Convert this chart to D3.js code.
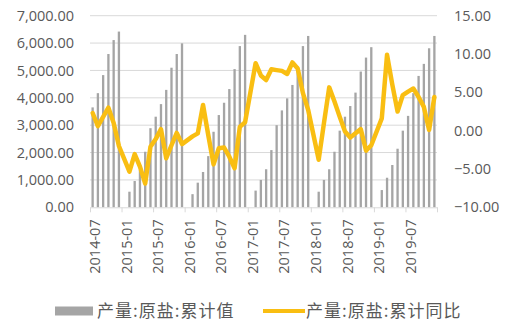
<!DOCTYPE html>
<html>
<head>
<meta charset="utf-8">
<script src="https://cdn.jsdelivr.net/npm/d3@7"></script>
<style>
  html, body { margin: 0; padding: 0; background: #ffffff; }
  svg { display: block; }
</style>
</head>
<body>
<svg id="chart" width="507" height="332"></svg>
<script>
// Monthly categories, 2014-07 through 2019-12
const months = [
  "2014-07","2014-08","2014-09","2014-10","2014-11","2014-12",
  "2015-01","2015-02","2015-03","2015-04","2015-05","2015-06","2015-07","2015-08","2015-09","2015-10","2015-11","2015-12",
  "2016-01","2016-02","2016-03","2016-04","2016-05","2016-06","2016-07","2016-08","2016-09","2016-10","2016-11","2016-12",
  "2017-01","2017-02","2017-03","2017-04","2017-05","2017-06","2017-07","2017-08","2017-09","2017-10","2017-11","2017-12",
  "2018-01","2018-02","2018-03","2018-04","2018-05","2018-06","2018-07","2018-08","2018-09","2018-10","2018-11","2018-12",
  "2019-01","2019-02","2019-03","2019-04","2019-05","2019-06","2019-07","2019-08","2019-09","2019-10","2019-11","2019-12"
];

// Raw salt output, year-to-date cumulative (left axis); January is not reported
const cumulative = [
  3650, 4170, 4830, 5600, 6110, 6420,
  null, 570, 960, 1360, 2030, 2890, 3310, 3770, 4290, 5100, 5600, 5990,
  null, 480, 900, 1290, 1870, 2760, 3370, 3820, 4320, 5050, 5890, 6300,
  null, 610, 1000, 1390, 2090, 3000, 3540, 3980, 4470, 5140, 5890, 6260,
  null, 570, 1000, 1390, 2030, 2800, 3310, 3700, 4190, 4960, 5470, 5850,
  null, 630, 1080, 1545, 2140, 2800, 3340, 4170, 4800, 5240, 5810, 6260
];

// Year-to-date growth rate, % (right axis)
const yoy = [
  2.3, 0.6, 1.8, 3.0, 1.0, -2.0,
  null, -5.35, -3.05, -4.7, -6.9, -2.1, -1.1, 0.2, -3.6, -1.9, -0.3, -1.75,
  null, -0.75, -0.35, 3.35, -0.6, -4.4, -2.3, -2.2, -3.4, -4.9, 0.5, 1.1,
  null, 8.8, 7.2, 6.6, 8.0, 7.9, 7.8, 7.4, 8.9, 8.1, 4.9, 2.7,
  null, -3.8, 1.0, 5.65, 3.8, 1.8, -0.1, -0.9, -0.35, 0.2, -2.6, -1.9,
  null, 1.6, 9.9, 6.0, 2.5, 4.65, 5.1, 5.5, 4.4, 3.1, 0.1, 4.4
];

const leftTicks = [0, 1000, 2000, 3000, 4000, 5000, 6000, 7000];
const rightTicks = [-10, -5, 0, 5, 10, 15];
const xTickLabels = ["2014-07","2015-01","2015-07","2016-01","2016-07","2017-01",
                     "2017-07","2018-01","2018-07","2019-01","2019-07"];
const seriesNames = ["产量:原盐:累计值", "产量:原盐:累计同比"];

const svg = d3.select("#chart");
const plot = { left: 90, right: 437, top: 15.7, bottom: 207.3 };
const textColor = "#595959";
const gridColor = "#d9d9d9";
const barColor = "#a5a5a5";
const lineColor = "#f9be12";
const tickFont = "'Open Sans', 'Liberation Sans', sans-serif";
const cjkFont = "'Noto Sans CJK SC', 'Noto Sans', sans-serif";

const x = d3.scaleBand().domain(months).range([plot.left, plot.right]).padding(0);
const xIndex = d3.scaleLinear().domain([0, months.length]).range([plot.left, plot.right]);
const yLeft = d3.scaleLinear().domain([0, 7000]).range([plot.bottom, plot.top]);
const yRight = d3.scaleLinear().domain([-10, 15]).range([plot.bottom, plot.top]);

// Horizontal gridlines
svg.append("g")
  .selectAll("line")
  .data(leftTicks.filter(d => d > 0))
  .join("line")
  .attr("x1", plot.left).attr("x2", plot.right)
  .attr("y1", d => yLeft(d)).attr("y2", d => yLeft(d))
  .attr("stroke", gridColor).attr("stroke-width", 1);

// Bars
const barW = x.bandwidth() * 0.44;
const rows = months.map((m, i) => ({ m, c: cumulative[i], r: yoy[i] }));
svg.append("g")
  .selectAll("rect")
  .data(rows.filter(d => d.c != null))
  .join("rect")
  .attr("x", d => x(d.m) + (x.bandwidth() - barW) / 2)
  .attr("width", barW)
  .attr("y", d => yLeft(d.c))
  .attr("height", d => yLeft(0) - yLeft(d.c))
  .attr("fill", barColor);

// Bottom axis: line and tick marks between category groups
const axisMarks = svg.append("g")
  .attr("transform", `translate(0,${plot.bottom})`)
  .call(d3.axisBottom(xIndex)
    .tickValues(d3.range(0, months.length + 1, 6))
    .tickSize(5).tickSizeOuter(0).tickFormat(""));
axisMarks.select(".domain").attr("stroke", gridColor);
axisMarks.selectAll(".tick line").attr("stroke", gridColor);

// Rotated month labels
const axisLabels = svg.append("g")
  .attr("transform", `translate(0,${plot.bottom})`)
  .call(d3.axisBottom(x).tickValues(xTickLabels).tickSize(0));
axisLabels.select(".domain").remove();
axisLabels.selectAll("text")
  .attr("transform", "rotate(-90)")
  .attr("text-anchor", "end")
  .attr("x", -12)
  .attr("y", 2.5)
  .attr("dy", "0.35em")
  .attr("fill", textColor)
  .style("font-family", tickFont)
  .style("font-size", "14.5px");

// Left axis labels
const fmt = d3.format(",.2f");
const leftAxis = svg.append("g")
  .attr("transform", `translate(${plot.left - 16},0)`)
  .call(d3.axisLeft(yLeft).tickValues(leftTicks).tickSize(0).tickPadding(0).tickFormat(fmt));
leftAxis.select(".domain").remove();
leftAxis.selectAll("text")
  .attr("fill", textColor)
  .style("font-family", tickFont)
  .style("font-size", "14.5px");

// Right axis labels
const rightAxis = svg.append("g")
  .attr("transform", `translate(${plot.right + 17},0)`)
  .call(d3.axisRight(yRight).tickValues(rightTicks).tickSize(0).tickPadding(0).tickFormat(d3.format(".2f")));
rightAxis.select(".domain").remove();
rightAxis.selectAll("text")
  .attr("fill", textColor)
  .style("font-family", tickFont)
  .style("font-size", "14.5px");

// Growth-rate line, joined across the unreported January points
const line = d3.line()
  .x(d => x(d.m) + x.bandwidth() / 2)
  .y(d => yRight(d.r));
svg.append("path")
  .datum(rows.filter(d => d.r != null))
  .attr("d", line)
  .attr("fill", "none")
  .attr("stroke", lineColor)
  .attr("stroke-width", 4.5)
  .attr("stroke-linejoin", "round")
  .attr("stroke-linecap", "round");

// Legend
const legend = svg.append("g");
legend.append("rect")
  .attr("x", 55).attr("y", 306.5).attr("width", 38).attr("height", 9)
  .attr("fill", barColor);
legend.append("text")
  .attr("x", 97).attr("y", 317)
  .attr("fill", textColor)
  .style("font-family", cjkFont).style("font-size", "17px").style("letter-spacing", "1px")
  .text(seriesNames[0]);
legend.append("line")
  .attr("x1", 263).attr("x2", 305).attr("y1", 311).attr("y2", 311)
  .attr("stroke", lineColor).attr("stroke-width", 4);
legend.append("text")
  .attr("x", 306).attr("y", 317)
  .attr("fill", textColor)
  .style("font-family", cjkFont).style("font-size", "17px").style("letter-spacing", "1px")
  .text(seriesNames[1]);
</script>
</body>
</html>
